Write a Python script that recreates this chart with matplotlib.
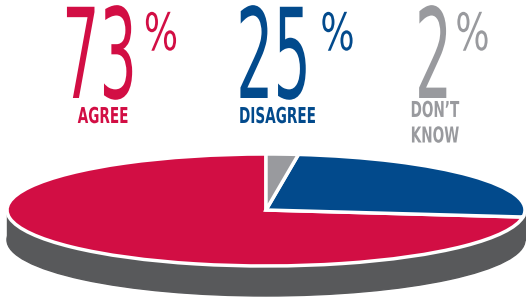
import matplotlib
matplotlib.use('Agg')
import matplotlib.pyplot as plt
from matplotlib.patches import Ellipse, Rectangle
from matplotlib.patheffects import AbstractPathEffect
from matplotlib.transforms import Affine2D

# survey result
categories = ['AGREE', 'DISAGREE', 'DON\u2019T\nKNOW']
values = [73, 25, 2]
colors = ['#d20e44', '#024a8c', '#999a9e']
side_color = '#58595b'

W, H = 526, 298


class Stretch(AbstractPathEffect):
    # make glyphs taller around a baseline (px from bottom) -> condensed look
    def __init__(self, sy, base):
        super().__init__()
        self.sy = sy
        self.base = base

    def draw_path(self, renderer, gc, tpath, affine, rgbFace=None):
        st = Affine2D().translate(0, -self.base).scale(1, self.sy).translate(0, self.base)
        renderer.draw_path(gc, tpath, affine + st, rgbFace)


fig = plt.figure(figsize=(W / 100, H / 100), dpi=100)
ax = fig.add_axes([0, 0, 1, 1])

# flattened pie: 1 unit = 259 px across, 56 px down
a, b = 259.0, 56.0
cx, cy = 266.0, 88.0  # pie centre in px from bottom-left
depth = 30.0 / b

ax.add_patch(Ellipse((0, -depth), 2, 2, color=side_color, zorder=0))
ax.add_patch(Rectangle((-1, -depth), 2, depth, color=side_color, zorder=0))
ax.pie(values, colors=colors, startangle=90, counterclock=True, radius=1,
       wedgeprops=dict(edgecolor='white', linewidth=2.5, zorder=2))
ax.set_aspect('auto')
ax.set_xlim(-cx / a, (W - cx) / a)
ax.set_ylim(-cy / b, (H - cy) / b)
ax.axis('off')

# big numbers, % signs and labels (x centre in px)
num_x = [99.5, 273.5, 433.5]
pct_x = [161, 337.5, 472.5]
lab_x = [103, 277.5, 435]


def add_text(x, baseline, s, c, sy, **kw):
    # baseline = last line's baseline, px from top
    t = fig.text(x / W, 1 - baseline / H, s, color=c, family='DejaVu Sans',
                 ha='center', va='baseline', **kw)
    t.set_path_effects([Stretch(sy, H - baseline)])
    return t


for v, lab, c, nx, px, lx in zip(values, categories, colors, num_x, pct_x, lab_x):
    add_text(nx, 98, str(v), c, 2.13, fontsize=42.3)
    add_text(px, 50, '%', c, 1.43, fontsize=25.9)
    last_base = 123 + 19.5 * lab.count('\n')
    add_text(lx, last_base, lab, c, 1.61, fontsize=9.8, fontweight='bold',
             linespacing=1.17)

fig.savefig('out.png', dpi=100)
